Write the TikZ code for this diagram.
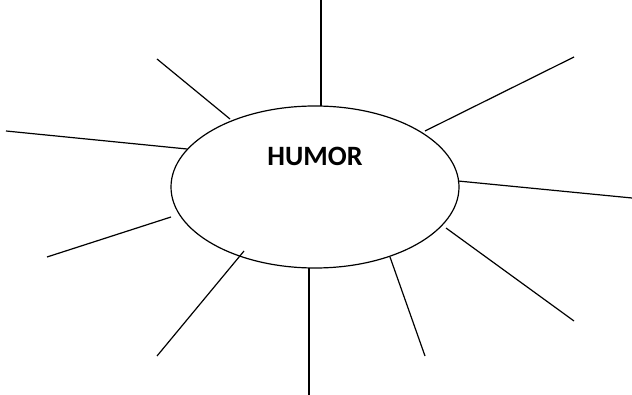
\documentclass[tikz,border=0pt]{standalone}
\usepackage{fontspec}
\setmainfont{Carlito}
\usetikzlibrary{shapes.geometric}
\begin{document}
\begin{tikzpicture}[x=1pt,y=-1pt,
  ray/.style={line width=1.2pt,line cap=butt},
  hub/.style={draw,line width=1.2pt,ellipse,minimum width=288pt,minimum height=162pt,inner sep=0pt}]
\useasboundingbox (0,0) rectangle (632,395);
\node[hub] (h) at (315,187) {};
\node[font=\bfseries\fontsize{28}{32}\selectfont] (t) at (315,156) {HUMOR};
\foreach \n/\a/\b/\c/\d in {1/321/106/321/0, 2/425/131/574/57, 3/458/181/632/198, 4/446/228/574/321, 5/390/257/425/356, 6/309/268/309/395, 7/244/251/157/356, 8/171/217/47/257, 9/187/149/6/131, 10/230/119/157/59}{
  \coordinate (i\n) at (\a,\b);
  \coordinate (o\n) at (\c,\d);
  \draw[ray] (i\n) -- (o\n);
}
\end{tikzpicture}
\end{document}
